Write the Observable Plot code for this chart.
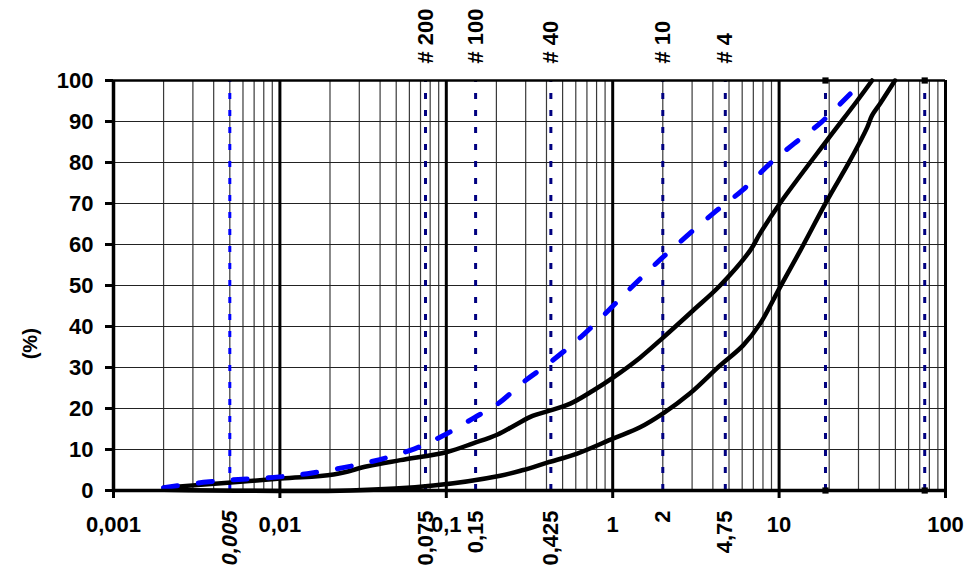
<!DOCTYPE html>
<html>
<head>
<meta charset="utf-8">
<script src="https://cdn.jsdelivr.net/npm/d3@7"></script>
<script src="https://cdn.jsdelivr.net/npm/@observablehq/plot@0.6"></script>
<style>
  html, body { margin: 0; padding: 0; background: #fff; }
</style>
</head>
<body>
<div id="chart"></div>
<script>
// ---- data ----
const decades = [0.001, 0.01, 0.1, 1, 10, 100];
const decadeLabels = ["0,001", "0,01", "0,1", "1", "10", "100"];
const yTicks = [0, 10, 20, 30, 40, 50, 60, 70, 80, 90, 100];
const yTitle = ["(%)"];
const yTitleAt = [32];

const sieveNames = ["# 200", "# 100", "# 40", "# 10", "# 4"];
const sieveSizes = [0.075, 0.15, 0.425, 2, 4.75];

const sizeLabels = ["0,075", "0,15", "0,425", "2", "4,75"];
const sizeValues = [0.075, 0.15, 0.425, 2, 4.75];
const clayLabel = ["0,005"];
const clayValue = [0.005];

const refLines = [0.075, 0.15, 0.425, 2, 4.75, 19, 75];
const markerSizes = [19, 19, 75, 75];
const markerPct = [0, 100, 0, 100];

// blue dashed curve
const blueD = [0.002, 0.00347, 0.00563, 0.00915, 0.0146, 0.0318, 0.0608, 0.096, 0.145, 0.205, 0.294, 0.404, 0.638, 0.953, 1.33, 1.93, 4.02, 6.08, 8.95, 12.3, 17.9, 30.2, 32.9];
const blueP = [0.7, 2.0, 2.7, 3.2, 4.1, 6.6, 9.8, 13.4, 17.6, 21.2, 26.6, 30.7, 37.3, 44.1, 50, 56.3, 67.6, 73.4, 80, 84.6, 89.8, 98.8, 100];

// upper black envelope
const upD = [0.002, 0.0101, 0.021, 0.0336, 0.053, 0.101, 0.145, 0.202, 0.26, 0.33, 0.404, 0.556, 0.764, 1.01, 1.46, 2.01, 3.04, 4.42, 6.69, 7.69, 10.1, 19.4, 29.4, 36.2];
const upP = [0.7, 2.9, 3.9, 5.9, 7.4, 9.4, 11.5, 13.6, 16.0, 18.2, 19.3, 21.2, 24.4, 27.6, 32.4, 37.3, 43.9, 50, 58.5, 62.7, 70, 85.4, 95, 100];

// lower black envelope
const loD = [0.002, 0.0265, 0.0836, 0.211, 0.29, 0.404, 0.612, 1.01, 1.46, 2.01, 2.92, 4.42, 6.08, 7.69, 10.1, 13.4, 19.4, 26.7, 33.8, 36.2, 40.5, 49.7];
const loP = [0.2, 0, 1.2, 3.6, 5.0, 6.8, 9, 12.7, 15.4, 18.8, 23.7, 30.5, 35.4, 40.7, 49.5, 58.5, 70.7, 80.5, 88.5, 91.5, 94.4, 100];

// ---- build ----
const toRows = (ds, ps) => ds.map((d, i) => ({d, p: ps[i]}));
const blue = toRows(blueD, blueP);
const upper = toRows(upD, upP);
const lower = toRows(loD, loP);

const minorTicks = [];
for (const dec of decades.slice(0, -1)) for (let k = 2; k <= 9; k++) minorTicks.push(dec * k);
const innerDecades = decades.slice(1, -1);
const hGrid = yTicks.slice(1, -1);
const labelOf = new Map(decades.map((d, i) => [d, decadeLabels[i]]));
const markers = markerSizes.map((d, i) => ({d, p: markerPct[i]}));

const FONT = "'Liberation Sans', Arial, Helvetica, sans-serif";
const FS = 22;

const chart = Plot.plot({
  width: 965, height: 573,
  marginLeft: 113, marginRight: 20, marginTop: 80, marginBottom: 83,
  style: {fontFamily: FONT, fontSize: FS + "px", fontWeight: "bold", color: "#000", background: "#fff"},
  x: {type: "log", domain: [0.001, 100]},
  y: {domain: [0, 100]},
  marks: [
    // grid
    Plot.ruleX(minorTicks, {stroke: "#3a3a3a", strokeWidth: 1.2}),
    Plot.ruleY(hGrid, {stroke: "#222", strokeWidth: 1.2}),
    Plot.ruleX(innerDecades, {stroke: "#000", strokeWidth: 3}),
    // sieve reference lines
    Plot.ruleX(clayValue, {y1: 0, y2: 100, stroke: "#0000ff", strokeWidth: 3, strokeDasharray: "6,11"}),
    Plot.ruleX(refLines, {y1: 0, y2: 100, stroke: "#000080", strokeWidth: 3, strokeDasharray: "6,11"}),
    // curves
    Plot.line(lower, {x: "d", y: "p", stroke: "#000", strokeWidth: 4.5, curve: "catmull-rom", strokeLinecap: "round"}),
    Plot.line(upper, {x: "d", y: "p", stroke: "#000", strokeWidth: 4.5, curve: "catmull-rom", strokeLinecap: "round"}),
    Plot.line(blue, {x: "d", y: "p", stroke: "#0000ff", strokeWidth: 5, strokeDasharray: "14,21", curve: "catmull-rom"}),
    // frame
    Plot.ruleY([100], {stroke: "#000", strokeWidth: 2.5}),
    Plot.ruleX([100], {stroke: "#000", strokeWidth: 3}),
    Plot.ruleX([0.001], {stroke: "#000", strokeWidth: 3.5}),
    Plot.ruleY([0], {stroke: "#000", strokeWidth: 3.5}),
    Plot.dot(markers, {x: "d", y: "p", symbol: "square", r: 3.5, fill: "#000"}),
    // axes
    Plot.axisX(decades, {tickFormat: d => labelOf.get(d), tickSize: 8, tickPadding: 18, strokeWidth: 3, label: null, fontSize: FS, fontWeight: "bold"}),
    Plot.axisY(yTicks, {tickSize: 8, tickPadding: 12, strokeWidth: 3, label: null, fontSize: FS, fontWeight: "bold"}),
    // rotated size labels below
    Plot.text(sizeLabels, {x: (d, i) => sizeValues[i], text: d => d, frameAnchor: "bottom", dy: 20, rotate: -90, textAnchor: "end", lineAnchor: "middle", fontSize: FS, fontWeight: "bold"}),
    Plot.text(clayLabel, {x: (d, i) => clayValue[i], text: d => d, frameAnchor: "bottom", dy: 20, rotate: -90, textAnchor: "end", lineAnchor: "middle", fontSize: FS, fontWeight: "bold", fontStyle: "italic"}),
    // sieve numbers above
    Plot.text(sieveNames, {x: (d, i) => sieveSizes[i], text: d => d, frameAnchor: "top", dy: -17, rotate: -90, textAnchor: "start", lineAnchor: "middle", fontSize: FS, fontWeight: "bold"}),
    // y title
    Plot.text(yTitle, {y: (d, i) => yTitleAt[i], text: d => d, frameAnchor: "left", dx: -83, rotate: -90, fontSize: 20, fontWeight: "bold"})
  ]
});
document.getElementById("chart").appendChild(chart);
</script>
</body>
</html>
